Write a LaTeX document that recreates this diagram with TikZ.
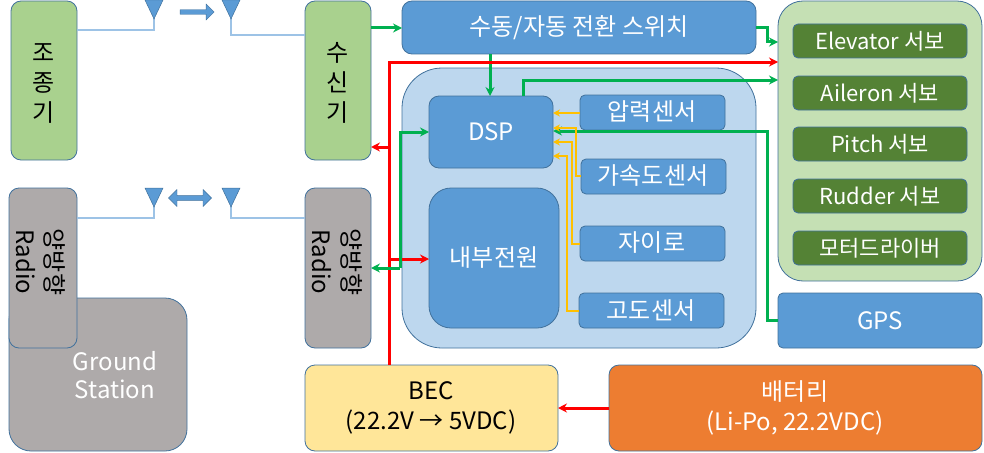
\documentclass[tikz,border=0pt]{standalone}
\usepackage{fontspec}
\setmainfont{Noto Sans CJK KR}
\usetikzlibrary{arrows.meta,shapes.arrows}
\definecolor{bl}{HTML}{5B9BD5}
\definecolor{bd}{HTML}{41719C}
\definecolor{lb}{HTML}{BDD7EE}
\definecolor{lg}{HTML}{A9D18E}
\definecolor{pg}{HTML}{C5E0B4}
\definecolor{dg}{HTML}{548235}
\definecolor{gy}{HTML}{AEAAAA}
\definecolor{yl}{HTML}{FFE699}
\definecolor{og}{HTML}{ED7D31}
\definecolor{gn}{HTML}{00B050}
\definecolor{ye}{HTML}{FFC000}
\definecolor{al}{HTML}{9DC3E6}
\begin{document}
\begin{tikzpicture}[x=1pt,y=-1pt,
  box/.style={draw=bd,line width=0.8pt,rounded corners=#1},
  box/.default=10pt,
  T/.style={font=\fontsize{24}{30}\selectfont},
  G/.style={gn,line width=3pt,-{Stealth[length=9pt,width=9pt]}},
  R/.style={red,line width=3pt,-{Stealth[length=9pt,width=9pt]}},
  Y/.style={ye,line width=1.3pt,-{Stealth[length=7pt,width=7pt]}},
  ant/.style={fill=bl,draw=bd,line width=0.5pt},
  aline/.style={al,line width=1.5pt}]
\useasboundingbox (0,0) rectangle (984,452);
% controller & receiver
\draw[box,fill=lg] (11,1) rectangle (77,160);
\node[T,align=center] (ctl) at (44,83) {조\\종\\기};
\draw[box,fill=lg] (305,1) rectangle (371,160);
\node[T,align=center] (rcv) at (338,83) {수\\신\\기};
% top antennas
\draw[aline] (77,30) -- (154,30) -- (154,18);
\draw[ant] (145,0) -- (163,0) -- (154,19) -- cycle;
\draw[aline] (231,18) -- (231,35) -- (305,35);
\draw[ant] (222,0) -- (240,0) -- (231,19) -- cycle;
\node[single arrow,fill=bl,draw=bd,line width=0.4pt,minimum height=34pt,minimum width=16pt,single arrow head extend=3pt,inner sep=1pt] (ar1) at (196,12) {};
% ground station
\draw[box=22pt,fill=gy] (9,298) rectangle (187,451);
\node[T,white,align=center,font=\fontsize{24}{28}\selectfont] (gs) at (115,375) {Ground\\Station};
\draw[box,fill=gy] (9,188) rectangle (77,348);
\node[T,rotate=-90] (r1a) at (55,262) {양방향};
\node[T,rotate=-90] (r1b) at (26,262) {Radio};
\draw[box,fill=gy] (305,188) rectangle (371,348);
\node[T,rotate=-90] (r2a) at (352,262) {양방향};
\node[T,rotate=-90] (r2b) at (322,262) {Radio};
% bottom antennas
\draw[aline] (77,218) -- (154,218) -- (154,206);
\draw[ant] (145,188) -- (163,188) -- (154,207) -- cycle;
\draw[aline] (231,206) -- (231,218) -- (305,218);
\draw[ant] (222,188) -- (240,188) -- (231,207) -- cycle;
\node[double arrow,fill=bl,draw=bd,line width=0.4pt,minimum height=43pt,minimum width=17pt,double arrow head extend=3pt,inner sep=1pt] (ar2) at (190,198) {};
% switch
\draw[box,fill=bl] (402,1) rectangle (756,54);
\node[T,white] (sw) at (579,28) {수동/자동 전환 스위치};
% inner box
\draw[box=40pt,fill=lb] (402,68) rectangle (756,348);
\draw[box,fill=bl] (429,96) rectangle (553,168);
\node[T,white] (dsp) at (491,132) {DSP};
\draw[box=22pt,fill=bl] (429,188) rectangle (559,328);
\node[T,white] (pw) at (494,258) {내부전원};
\draw[box=5pt,fill=bl] (580,95) rectangle (725,130);
\node[T,white] (s1) at (652,112) {압력센서};
\draw[box=5pt,fill=bl] (581,159) rectangle (726,194);
\node[T,white] (s2) at (653,176) {가속도센서};
\draw[box=5pt,fill=bl] (580,226) rectangle (725,261);
\node[T,white] (s3) at (652,243) {자이로};
\draw[box=5pt,fill=bl] (579,293) rectangle (724,328);
\node[T,white] (s4) at (651,311) {고도센서};
% servo box
\draw[box=25pt,fill=pg] (778,1) rectangle (982,281);
\foreach \t/\y/\n in {Elevator 서보/24/e1,Aileron 서보/76/e2,Pitch 서보/127/e3,Rudder 서보/179/e4,모터드라이버/231/e5}{
  \draw[box=5pt,fill=dg] (793,\y) rectangle (967,\y+34);
  \node[T,white,font=\fontsize{22}{26}\selectfont] (\n) at (880,\y+17) {\t};
}
\draw[box=5pt,fill=bl] (778,293) rectangle (982,348);
\node[T,white] (gps) at (880,321) {GPS};
\draw[box,fill=yl] (305,365) rectangle (558,451);
\node[T,align=center] (bec) at (431,408) {BEC\\(22.2V → 5VDC)};
\draw[box,fill=og] (609,365) rectangle (982,451);
\node[T,white,align=center] (bat) at (795,408) {배터리\\(Li-Po, 22.2VDC)};
% connectors
\coordinate (sr) at (778,42);
\coordinate (rr) at (778,62);
\coordinate (gr) at (778,80);
\draw[G] (371,28) -- (402,28);
\draw[G] (756,28) -- (767,28) -- (767,42) -- (sr);
\draw[G] (490,54) -- (490,96);
\draw[R] (389,365) -- (389,62) -- (rr);
\draw[R] (389,147) -- (371,147);
\draw[R] (389,259) -- (429,259);
\draw[G] (523,96) -- (523,80) -- (gr);
\draw[G] (400,268) -- (400,132) -- (429,132);
\draw[G] (400,268) -- (371,268);
\draw[G] (778,320) -- (767,320) -- (767,131) -- (553,131);
\draw[Y] (580,113) -- (553,113);
\draw[Y] (581,176) -- (576,176) -- (576,128) -- (553,128);
\draw[Y] (580,244) -- (572,244) -- (572,142) -- (553,142);
\draw[Y] (579,311) -- (567,311) -- (567,156) -- (553,156);
\draw[R] (609,408) -- (558,408);
\end{tikzpicture}
\end{document}
